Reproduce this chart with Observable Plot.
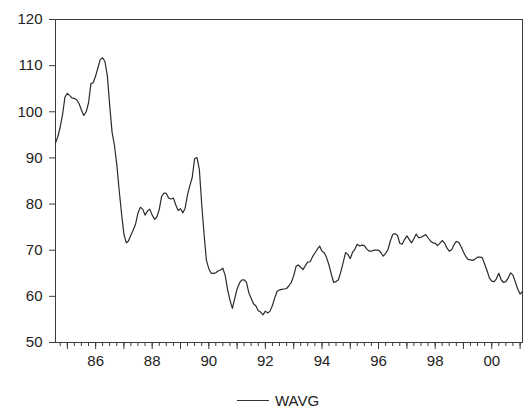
<!DOCTYPE html>
<html>
<head>
<meta charset="utf-8">
<script src="https://cdn.jsdelivr.net/npm/d3@7"></script>
<script src="https://cdn.jsdelivr.net/npm/@observablehq/plot@0.6"></script>
<style>
  html, body { margin: 0; padding: 0; background: #fff; }
  #chart { width: 526px; }
  .legend { font-family: "Liberation Sans", Arial, sans-serif; font-size: 15px; color: #222;
            display: flex; align-items: center; justify-content: flex-start; margin-top: 17px; padding-left: 237px; }
  .legend .sw { width: 32px; height: 0; border-top: 1.3px solid #333; margin-right: 6px; }
</style>
</head>
<body>
<div id="chart"></div>
<script>
// Monthly series, first observation 1984-08
const startYear = 1984;
const startMonth = 8;
const seriesName = "WAVG";
const wavg = [
  93.2, 94.7, 96.7, 99.5, 103.2, 104.0, 103.5, 103.0, 102.9, 102.6,
  101.8, 100.4, 99.2, 100.0, 101.9, 106.1, 106.3, 107.8, 109.6, 111.3,
  111.7, 110.9, 107.9, 101.5, 95.6, 92.7, 88.6, 83.0, 78.0, 73.5,
  71.6, 72.0, 73.3, 74.4, 75.7, 78.0, 79.3, 78.9, 77.6, 78.5,
  78.9, 77.6, 76.7, 77.2, 78.8, 81.6, 82.4, 82.3, 81.3, 81.1,
  81.3, 79.8, 78.6, 79.0, 78.1, 79.1, 82.0, 84.0, 85.8, 89.8,
  90.1, 87.5, 80.0, 73.4, 67.8, 66.0, 65.0, 65.0, 65.1, 65.5,
  65.7, 66.1, 64.5, 61.4, 59.2, 57.4, 59.5, 61.6, 62.9, 63.5,
  63.6, 63.1, 60.8, 59.6, 58.4, 57.9, 56.9, 56.6, 56.0, 56.8,
  56.4, 56.8, 58.0, 59.7, 61.1, 61.4, 61.5, 61.6, 61.7, 62.3,
  63.0, 64.5, 66.5, 66.8, 66.3, 65.8, 66.7, 67.4, 67.5, 68.6,
  69.4, 70.2, 70.9, 69.8, 69.4, 68.4, 66.8, 64.8, 63.0, 63.2,
  63.6, 65.3, 67.3, 69.5, 69.1, 68.2, 69.6, 70.2, 71.3, 70.9,
  71.1, 71.0, 70.3, 69.8, 69.8, 70.0, 70.0, 70.0, 69.5, 68.7,
  69.3, 70.1, 72.0, 73.4, 73.6, 73.2, 71.5, 71.3, 72.3, 73.1,
  72.3, 71.6, 72.5, 73.5, 72.7, 72.8, 73.1, 73.4, 72.7, 72.0,
  71.6, 71.5, 71.0, 71.5, 72.1, 71.6, 70.5, 69.8, 70.1, 71.2,
  71.9, 71.7, 70.8, 69.6, 68.6, 68.0, 67.9, 67.8, 68.1, 68.5,
  68.5, 68.4, 67.0, 65.6, 64.0, 63.3, 63.2, 63.8, 65.0, 63.6,
  63.0, 63.2, 64.0, 65.1, 64.6, 63.1, 61.6, 60.5, 61.0
];
const yTicks = [50, 60, 70, 80, 90, 100, 110, 120];
const labelYears = [1986, 1988, 1990, 1992, 1994, 1996, 1998, 2000];
const labelTexts = ["86", "88", "90", "92", "94", "96", "98", "00"];

const data = wavg.map((v, i) => ({date: new Date(Date.UTC(startYear, startMonth - 1 + i, 1)), value: v}));
const x0 = data[0].date, x1 = data[data.length - 1].date;

const quarterTicks = [];
for (let y = startYear; y <= 2001; y++) for (let m = 0; m < 12; m += 3) {
  const d = new Date(Date.UTC(y, m, 1));
  if (d >= x0 && d <= x1) quarterTicks.push(d);
}
const yearTicks = quarterTicks.filter(d => d.getUTCMonth() === 0);
const labelMap = new Map(labelYears.map((y, i) => [y, labelTexts[i]]));

const axisColor = "#3c3c3c";
const chart = Plot.plot({
  width: 526,
  height: 375,
  marginLeft: 55,
  marginRight: 4,
  marginTop: 19,
  marginBottom: 33,
  style: {fontFamily: "'Liberation Sans', Arial, sans-serif", fontSize: "15px", color: "#222", background: "#fff"},
  x: {type: "utc", domain: [x0, x1], label: null},
  y: {domain: [50, 120], label: null},
  marks: [
    Plot.axisY(yTicks, {tickSize: 6, tickPadding: 7, stroke: axisColor, fontSize: 15}),
    Plot.axisX(quarterTicks, {tickSize: 4, tickFormat: () => "", stroke: axisColor}),
    Plot.axisX(yearTicks, {tickSize: 7, tickPadding: 6, stroke: axisColor, fontSize: 15,
      tickFormat: d => labelMap.get(d.getUTCFullYear()) ?? ""}),
    Plot.frame({stroke: axisColor, strokeWidth: 1}),
    Plot.lineY(data, {x: "date", y: "value", stroke: "#2b2b2b", strokeWidth: 1.2})
  ]
});
document.getElementById("chart").appendChild(chart);

const legend = document.createElement("div");
legend.className = "legend";
legend.innerHTML = `<span class="sw"></span><span></span>`;
legend.lastChild.textContent = seriesName;
document.body.appendChild(legend);
</script>
</body>
</html>
